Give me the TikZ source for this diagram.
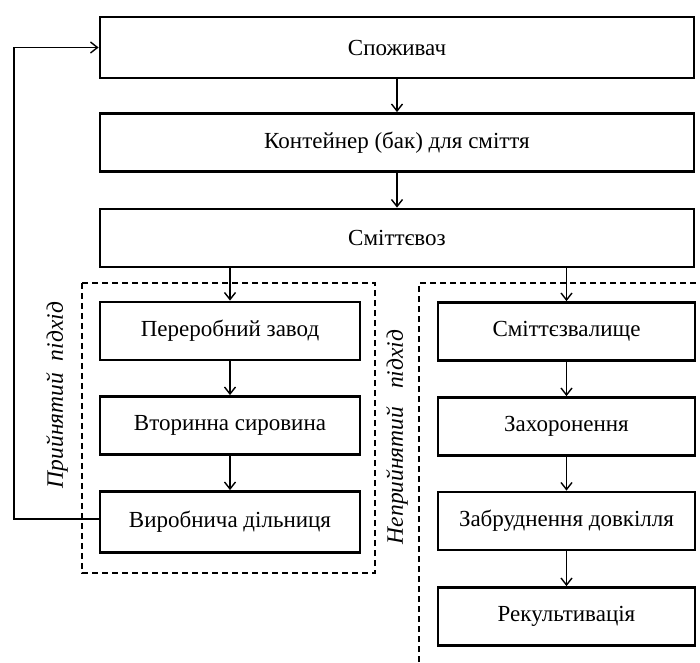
\documentclass[tikz,border=0pt]{standalone}
\usepackage{fontspec}
\setmainfont{Liberation Serif}
\usetikzlibrary{arrows.meta}
\begin{document}
\begin{tikzpicture}[x=1pt,y=-1pt,
  box/.style={draw,line width=2.8pt,minimum width=#1,minimum height=58pt,inner sep=0pt,font=\fontsize{23}{26}\selectfont},
  arr/.style={line width=1.4pt,-{Straight Barb[length=7pt,width=11pt,line width=1.4pt]}},
  grp/.style={draw,dashed,line width=1.3pt,dash pattern=on 6pt off 4pt},
  vlab/.style={rotate=90,font=\fontsize{23.5}{26}\selectfont\itshape}]
\useasboundingbox (0,0) rectangle (700,662);
\node[box=594pt,minimum height=61pt] (c) at (397,47.5) {Споживач};
\node[box=594pt] (k) at (397,142.5) {Контейнер (бак) для сміття};
\node[box=594pt] (s) at (397,238) {Сміттєвоз};
\node[box=260pt] (l1) at (230,331) {Переробний завод};
\node[box=260pt] (l2) at (230,425.5) {Вторинна сировина};
\node[box=260pt,minimum height=61pt] (l3) at (230,522) {Виробнича дільниця};
\node[box=257pt] (r1) at (566.5,331.5) {Сміттєзвалище};
\node[box=257pt] (r2) at (566.5,426.5) {Захоронення};
\node[box=257pt] (r3) at (566.5,521) {Забруднення довкілля};
\node[box=257pt] (r4) at (566.5,616.5) {Рекультивація};
\draw[grp] (82,283) rectangle (375,573);
\coordinate (rb) at (419,662);
\coordinate (rt) at (419,283);
\coordinate (re) at (700,283);
\draw[grp] (rb) -- (rt) -- (re);
\node[vlab] (la) at (57,395) {Прийнятий\ \ підхід};
\node[vlab] (ra) at (397,437) {Неприйнятий\ \ \ підхід};
\draw[arr] (c) -- (k);
\draw[arr] (k) -- (s);
\draw[arr] (s.south -| l1.north) -- (l1.north);
\draw[arr] (s.south -| r1.north) -- (r1.north);
\draw[arr] (l1) -- (l2);
\draw[arr] (l2) -- (l3);
\draw[arr] (r1) -- (r2);
\draw[arr] (r2) -- (r3);
\draw[arr] (r3) -- (r4);
\coordinate (fb) at (14,519);
\draw[arr] (l3.west |- fb) -- (fb) -- (fb |- c.west) -- (c.west);
\end{tikzpicture}
\end{document}
